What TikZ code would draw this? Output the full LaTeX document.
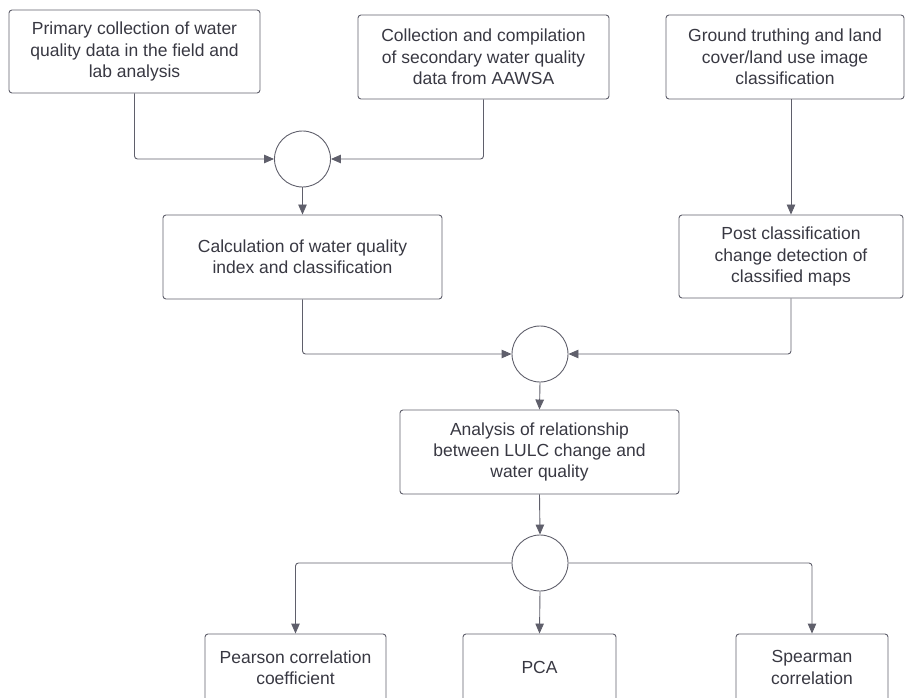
\documentclass[tikz,border=0pt]{standalone}
\usepackage{fontspec}
\setmainfont{Liberation Sans}
\usetikzlibrary{calc,arrows.meta}
\definecolor{boxline}{HTML}{5F5F6B}
\definecolor{boxtext}{HTML}{383842}

\begin{document}
\begin{tikzpicture}[x=1pt,y=-1pt,
    proc/.style={draw=boxline, line width=0.9pt, rounded corners=3pt, align=center,
      text=boxtext, font=\fontsize{17.5}{21.3}\selectfont, inner sep=0pt},
    junction/.style={draw=boxline, line width=0.9pt, circle, minimum size=56pt, inner sep=0pt},
    flow/.style={draw=boxline, line width=0.9pt, rounded corners=3pt,
      -{Triangle[length=10pt,width=8.5pt]}},
    elbowv/.style={to path={|- (\tikztotarget) \tikztonodes}},
    elbowh/.style={to path={-| (\tikztotarget) \tikztonodes}}]
  \clip (0,0) rectangle (906,698);

  % inputs
  \node[proc, minimum width=251pt, minimum height=83pt] (primary) at (134.5,51.5)
    {Primary collection of water\\quality data in the field and\\lab analysis};
  \node[proc, minimum width=251pt, minimum height=84pt] (secondary) at (483.5,57)
    {Collection and compilation\\of secondary water quality\\data from AAWSA};
  \node[proc, minimum width=238pt, minimum height=84pt] (ground) at (785,57)
    {Ground truthing and land\\cover/land use image\\classification};

  \node[junction] (join1) at (302.5,159) {};

  \node[proc, minimum width=279pt, minimum height=84pt] (wqi) at (302.5,257)
    {Calculation of water quality\\index and classification};
  \node[proc, minimum width=224pt, minimum height=83pt] (change) at (791,256.5)
    {Post classification\\change detection of\\classified maps};

  \node[junction] (join2) at (540,354) {};

  \node[proc, minimum width=279pt, minimum height=84pt] (relation) at (539.5,452)
    {Analysis of relationship\\between LULC change and\\water quality};

  \node[junction] (join3) at (540,563) {};

  % methods
  \node[proc, minimum width=181pt, minimum height=67pt] (pearson) at (295.5,667.5)
    {Pearson correlation\\coefficient};
  \node[proc, minimum width=153pt, minimum height=67pt] (pca) at (539.5,667.5) {PCA};
  \node[proc, minimum width=152pt, minimum height=67pt] (spearman) at (812,667.5)
    {Spearman\\correlation};

  \path (primary.south)                   edge[flow, elbowv] (join1.west)
        (secondary.south)                 edge[flow, elbowv] (join1.east)
        (join1.south)                     edge[flow]         (wqi.north)
        (change.north |- ground.south)    edge[flow]         (change.north)
        (wqi.south)                       edge[flow, elbowv] (join2.west)
        (change.south)                    edge[flow, elbowv] (join2.east)
        (join2.south)                     edge[flow]         (relation.north)
        (relation.south)                  edge[flow]         (join3.north)
        (join3.west)                      edge[flow, elbowh] (pearson.north)
        (join3.south)                     edge[flow]         (pca.north)
        (join3.east)                      edge[flow, elbowh] (spearman.north);
\end{tikzpicture}
\end{document}
